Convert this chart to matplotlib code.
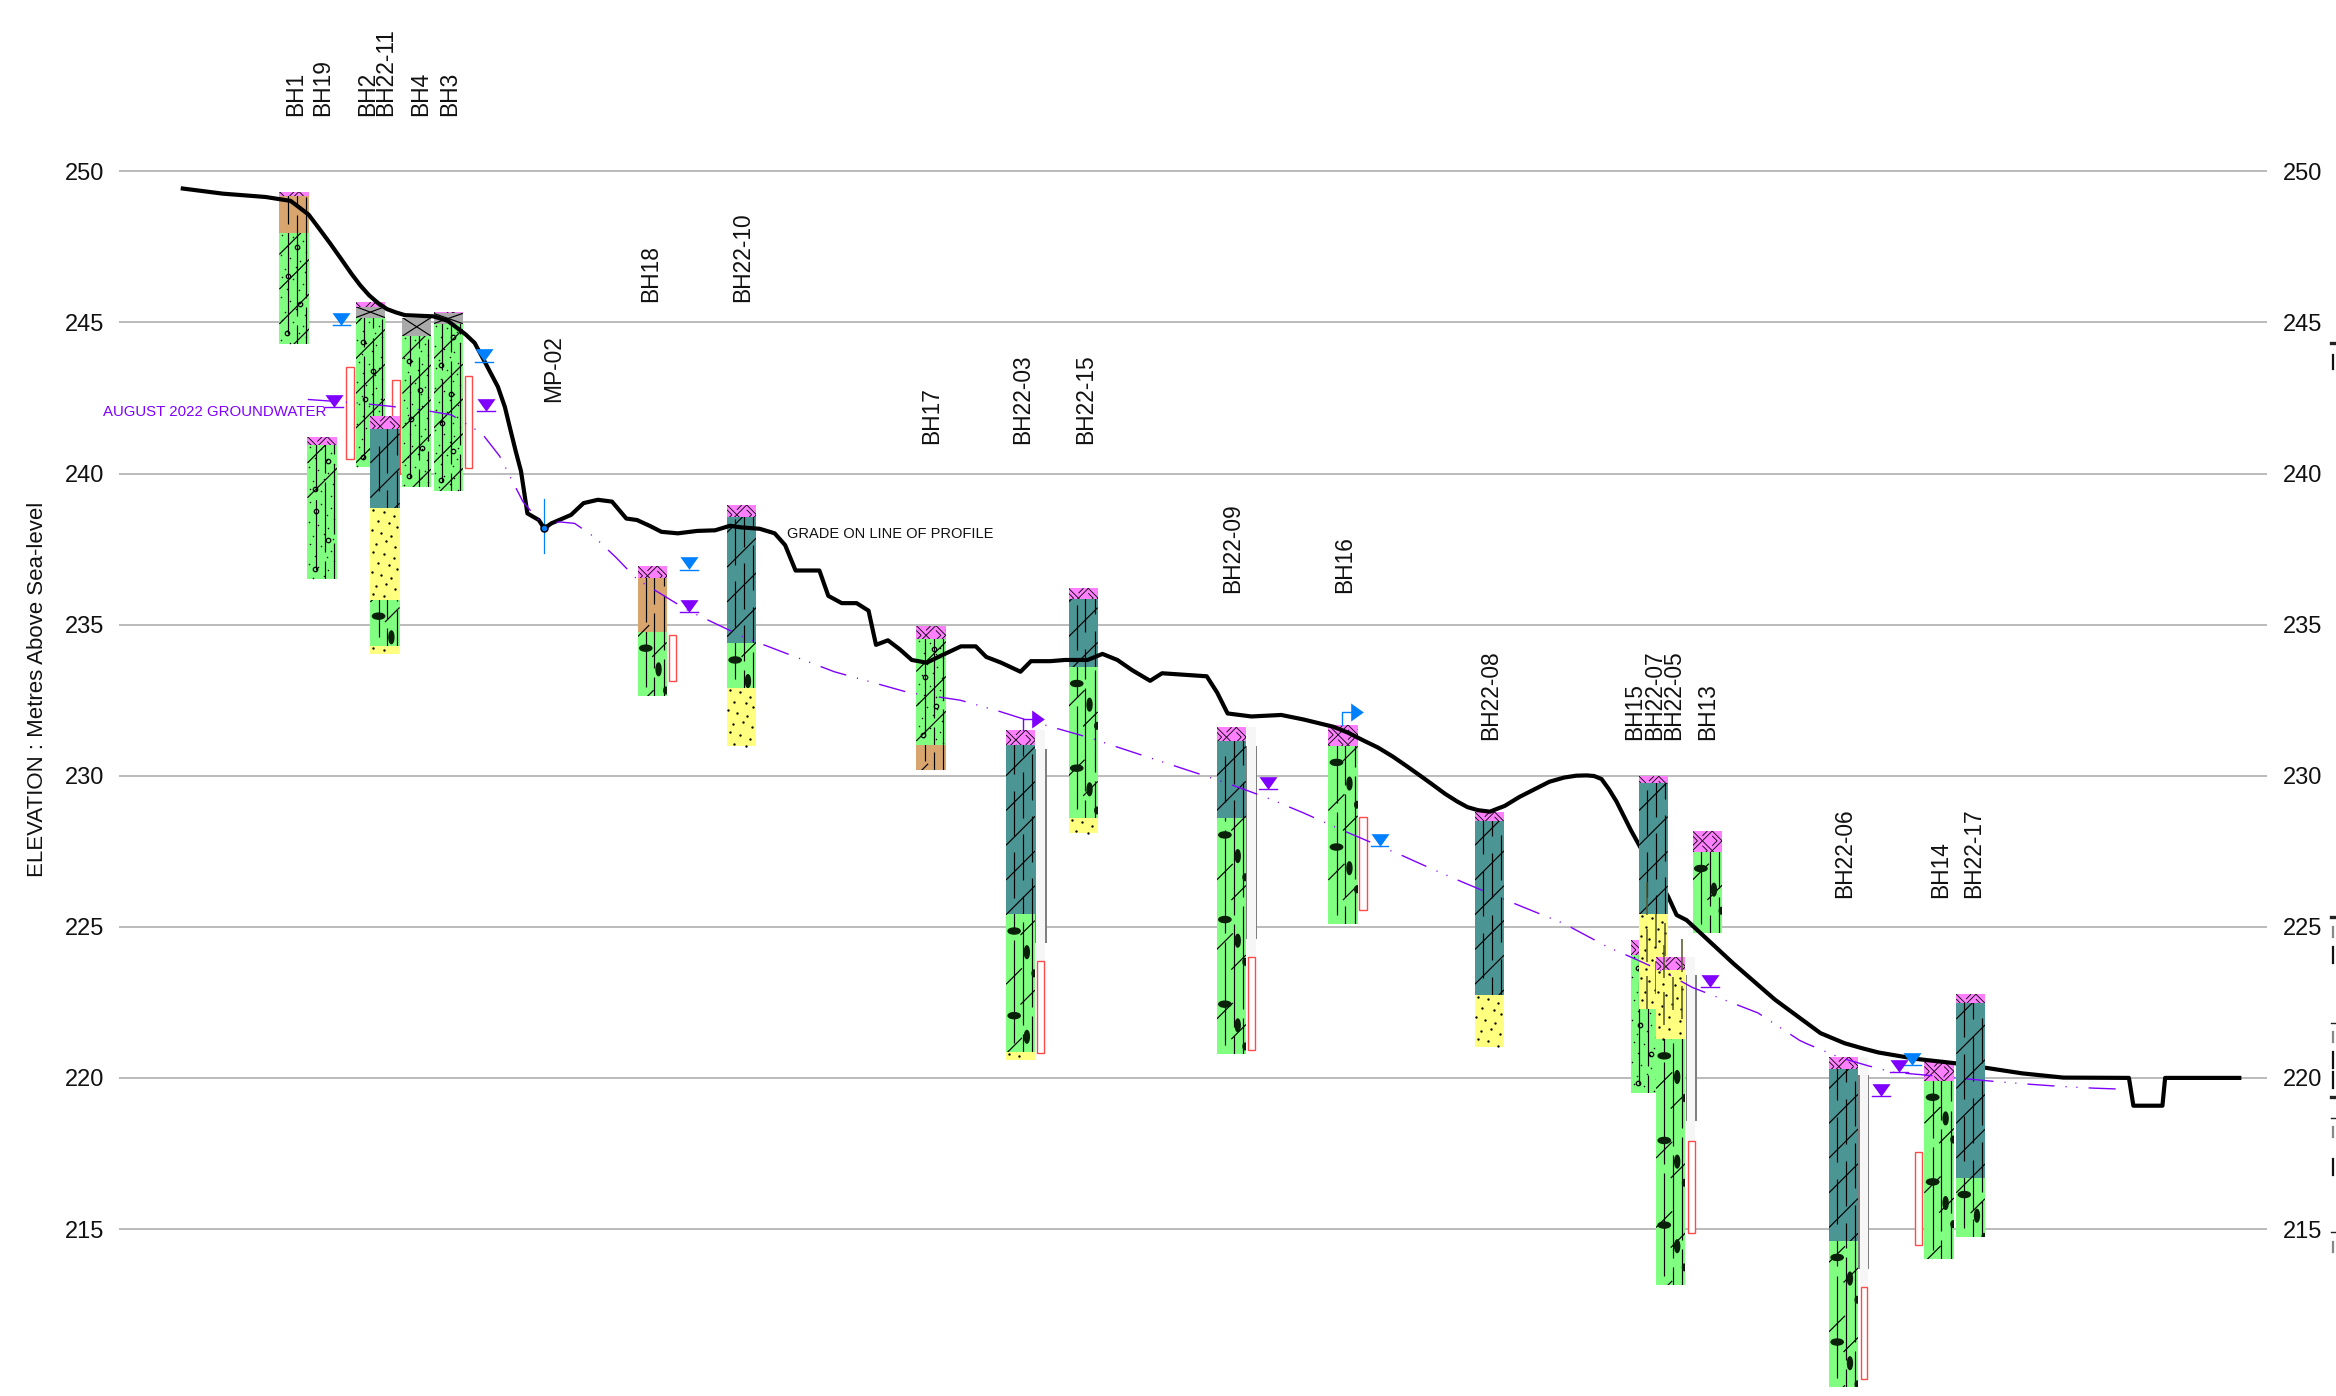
#!/usr/bin/env python3

import numpy as np
import matplotlib
matplotlib.use("Agg")
import matplotlib.pyplot as plt
from matplotlib.collections import LineCollection
from matplotlib.lines import Line2D
from matplotlib.patches import Ellipse, Rectangle

plt.rcParams['font.family'] = ['Liberation Sans', 'DejaVu Sans']

# === DATA ===
ELEVATION_TICKS = [215, 220, 225, 230, 235, 240, 245, 250]

GROUND_X = [122.7, 149.6, 178.3, 195.1, 207.1, 214.3, 221.5, 228.7, 235.9, 241.9, 247.9, 253.8, 259.8,
            265.8, 271.8, 291, 300.6, 312.6, 318.6, 324.6, 329.4, 334.2, 338.9, 342.5, 346.1, 349.7,
            354, 361.7, 365.3, 370.1, 383.3, 391.7, 401.3, 410.8, 420.4,
            427.6, 436, 444, 455, 468, 480, 490, 497, 510, 520, 527, 534, 550, 556, 565, 575, 583,
            588, 596, 604, 612, 622, 632, 645, 655, 662, 672, 685, 692, 705, 715, 730, 740, 750,
            760, 772, 780, 795, 810, 817, 824, 840, 860, 875, 895, 905, 915, 925, 935, 945, 955,
            962, 970, 978, 985, 992, 1000,
            1010, 1020, 1030, 1040, 1050, 1058, 1065, 1070, 1075, 1080, 1085, 1095, 1105, 1119.8,
            1125.4, 1132.1, 1163.4, 1191.4,
            1208.2, 1222, 1238, 1250, 1261, 1286, 1311.5, 1332.1, 1357.4, 1385, 1429, 1432, 1451.5,
            1453.3, 1503.1]
GROUND_EL = [249.43, 249.26, 249.15, 249.02, 248.57, 248.1, 247.62, 247.12, 246.61, 246.22, 245.89,
             245.64, 245.44, 245.33, 245.24, 245.2, 245.05, 244.6, 244.32, 243.77, 243.32, 242.87,
             242.2, 241.47, 240.75, 240.08, 238.68, 238.46, 238.18, 238.35, 238.63,
             239.02, 239.13, 239.07, 238.51, 238.46, 238.27, 238.07, 238.02, 238.1, 238.12, 238.27,
             238.22, 238.17, 238.02, 237.63, 236.79, 236.79, 235.95, 235.71, 235.71, 235.46, 234.33,
             234.48, 234.18, 233.83, 233.74, 233.98, 234.28, 234.28, 233.93, 233.74, 233.44, 233.79,
             233.79, 233.83, 233.83, 234.03, 233.83, 233.49, 233.14, 233.39, 233.34, 233.29, 232.75,
             232.06, 231.96, 232.01, 231.86, 231.62, 231.42, 231.17, 230.93, 230.63, 230.29, 229.94,
             229.69, 229.4, 229.15, 228.96, 228.86, 228.81,
             229.0, 229.3, 229.55, 229.8, 229.94, 230.0, 230.01, 229.99, 229.89, 229.55, 229.15,
             228.17, 227.28, 225.99, 225.39, 225.22,
             223.79, 222.59, 221.98, 221.48, 221.15, 220.98, 220.84, 220.63, 220.49, 220.34, 220.15,
             220.01, 220.0, 219.08, 219.08, 220.0, 220.0]

GW_X = [206.6, 240.7, 261, 283.8, 303, 323.4, 335.3, 351, 365.3, 375, 385.7, 398.9, 413.3, 427.6,
        462, 500, 560, 610, 644.4, 669.5, 687.4, 730.5, 752.9, 812.2, 834.5, 852.9, 874.4, 899.9,
        921.8, 939.7, 960.9, 979.3, 1000, 1050, 1078.8, 1097.4, 1118.7, 1136.1, 1180, 1208, 1212.8,
        1234.6, 1254, 1270.2, 1295.4, 1319.5, 1339.5, 1362.4, 1382.6, 1405.6, 1422.8]
GW_EL = [242.45, 242.33, 242.23, 242.1, 241.94, 241.33, 240.58, 239.07, 238.23, 238.4, 238.35, 237.9,
         237.23, 236.5, 235.46, 234.57, 233.44, 232.75, 232.5, 232.15, 231.87, 231.27, 230.9, 229.94,
         229.56, 229.22, 228.78, 228.22, 227.76, 227.39, 226.92, 226.53, 226.1, 225.1, 224.34, 223.94,
         223.46, 222.99, 222.15, 221.24, 221.13, 220.68, 220.4, 220.19, 220.08, 219.97, 219.88, 219.79,
         219.72, 219.66, 219.63]

# holes in drawing order
HOLE_NAMES = ['BH1', 'BH19', 'BH2', 'BH22-11', 'BH4', 'BH3', 'BH18', 'BH22-10', 'BH17', 'BH22-03',
              'BH22-15', 'BH22-09', 'BH16', 'BH22-08', 'BH15', 'BH22-07', 'BH22-05', 'BH13',
              'BH22-06', 'BH14', 'BH22-17']
HOLE_LEFT = [187.5, 206.4, 238.8, 248.6, 270.1, 291, 428, 488, 615, 675.3, 717.3, 816.7, 891.6, 990,
             1094.8, 1100.2, 1111.6, 1136.1, 1227.7, 1291.7, 1313.1]
HOLE_RIGHT = [207.6, 226.3, 258.4, 268.2, 289.3, 310.7, 447.5, 507.5, 635, 694.7, 736.8, 836.3, 911.3,
              1009.5, 1114.3, 1119.4, 1131.3, 1156, 1247.2, 1311.5, 1332.4]
HOLE_TOP = [249.33, 241.22, 245.66, 241.89, 245.16, 245.35, 236.94, 238.96, 234.97, 231.51, 236.2,
            231.6, 231.68, 228.8, 224.56, 229.98, 224.01, 228.17, 220.7, 220.54, 222.77]
HOLE_BOTTOMS = [
    [249.18, 247.96, 244.3],
    [240.95, 239.13, 236.5],
    [245.52, 245.16, 240.2],
    [241.46, 238.87, 235.83, 234.29, 234.02],
    [244.55, 239.56],
    [245.3, 244.96, 239.43],
    [236.55, 234.77, 232.65],
    [238.57, 234.38, 232.9, 230.98],
    [234.52, 231.0, 230.19],
    [231.01, 225.41, 220.85, 220.6],
    [235.85, 233.6, 228.61, 228.09],
    [231.16, 228.59, 220.79],
    [230.99, 225.09],
    [228.5, 222.75, 221.02],
    [224.06, 219.49],
    [229.77, 225.44, 222.28],
    [223.57, 221.75, 221.28, 213.14],
    [227.48, 224.8],
    [220.29, 214.61, 209.76],
    [219.91, 214.02],
    [222.47, 216.69, 214.72],
]
HOLE_SOILS = [
    ['fill_pink', 'brown', 'till'],
    ['fill_pink', 'till', 'till_plain'],
    ['fill_pink', 'asphalt', 'till'],
    ['fill_pink', 'clay', 'sand', 'till_cobble', 'sand'],
    ['asphalt', 'till'],
    ['fill_pink', 'asphalt', 'till'],
    ['fill_pink', 'brown', 'till_cobble'],
    ['fill_pink', 'clay', 'till_cobble', 'sand'],
    ['fill_pink', 'till', 'brown'],
    ['fill_pink', 'clay', 'till_cobble', 'sand'],
    ['fill_pink', 'clay', 'till_cobble', 'sand'],
    ['fill_pink', 'clay', 'till_cobble'],
    ['fill_pink', 'till_cobble'],
    ['fill_pink', 'clay', 'sand'],
    ['fill_pink', 'till_plain'],
    ['fill_pink', 'clay', 'silty_sand'],
    ['fill_pink', 'silty_sand', 'sand', 'till_cobble'],
    ['fill_pink', 'till_cobble'],
    ['fill_pink', 'clay', 'till_cobble'],
    ['fill_pink', 'till_cobble'],
    ['fill_pink', 'clay', 'till_cobble'],
]

# screened intervals
SCREEN_LEFT = [232.5, 263.4, 311.9, 449, 696, 837.8, 912.4, 1133, 1249, 1285.3]
SCREEN_RIGHT = [237.3, 268.7, 316.9, 454, 700.8, 842.4, 917.3, 1138, 1253.2, 1290.4]
SCREEN_TOP = [243.54, 243.1, 243.24, 234.67, 223.88, 223.99, 228.62, 217.92, 213.07, 217.54]
SCREEN_BOTTOM = [240.47, 240.0, 240.17, 233.14, 220.84, 220.93, 225.56, 214.86, 210.02, 214.47]

# well pipes above the deep screens
PIPE_LEFT = [695.4, 837.2, 1132.5, 1248.4]
PIPE_RIGHT = [701.4, 842.8, 1138, 1253.6]
PIPE_TOP = [231.51, 231.6, 224.01, 220.7]
PIPE_SEAL_TOP = [230.9, 230.99, 223.4, 220.1]
PIPE_SEAL_BOTTOM = [224.48, 224.58, 218.56, 213.66]
PIPE_BOTTOM = [223.88, 223.99, 217.92, 213.07]

LEVEL_BLUE_X = [229.2, 324.6, 462.5, 926, 1283.2]
LEVEL_BLUE_EL = [244.9, 243.7, 236.82, 227.67, 220.43]
LEVEL_PURPLE_X = [224.4, 326, 462.5, 851, 1147.8, 1262.8, 1274.8]
LEVEL_PURPLE_EL = [242.19, 242.06, 235.42, 229.55, 223.0, 219.4, 220.2]

# artesian flags
FLAG_X = [687, 901]
FLAG_FOOT = [231.51, 231.68]
FLAG_EL = [231.87, 232.1]
FLAG_COLORS = ['#8000ff', '#0080ff']

MP_X = 365.3
MP_EL = 238.2
MP_TOP = 239.16
MP_BOTTOM = 237.38

# === STYLE ===
FIG_W, FIG_H = 2336, 1396
PX = FIG_W / 1568          # layout below is worked out in 1568 wide units
Y250, PER_M = 171.3, 30.22
FILLS = {
    'fill_pink': '#ff80ff', 'brown': '#d8a56e', 'till': '#80ff80', 'till_plain': '#80ff80',
    'till_cobble': '#80ff80', 'clay': '#4c9595', 'sand': '#ffff80', 'silty_sand': '#ffff80',
    'asphalt': '#aaaaaa',
}
PURPLE = '#8000ff'
BLUE = '#0080ff'
RED = '#ff4a4a'
ABOVE_GROUND = ['BH15', 'BH22-07', 'BH22-05', 'BH22-17']
DOTS_X = [.1, .45, .8, .25, .65, .9, .05, .35, .7, .55, .2, .85]
DOTS_Y = [.05, .1, .2, .32, .36, .45, .52, .6, .66, .8, .86, .93]
TRI_DOWN = [(-1, .7), (1, .7), (0, -.7), (-1, .7)]
TRI_RIGHT = [(-.7, 1), (-.7, -1), (.7, 0), (-.7, 1)]


def px_to_el(py):
    return 250 - (py * PX - Y250) / PER_M


def segments_for(soil, x0, x1, top, bottom):
    w = x1 - x0
    rise = w / 20.3
    segs = []
    if soil == 'fill_pink':
        # basket weave, one cell leaning each way
        step = 6.6
        dy = step / 20.3
        for i, x in enumerate(np.arange(x0 - step, x1 + step, step)):
            for j, y in enumerate(np.arange(top - 4 * dy, top + dy, dy)):
                for t in (0.0, 0.5):
                    if (i + j) % 2:
                        segs.append([(x, y + t * dy), (x + step * (1 - t), y + dy)])
                    else:
                        segs.append([(x, y + dy * (1 - t)), (x + step * (1 - t), y)])
    elif soil == 'asphalt':
        segs += [[(x0, bottom), (x1, top)], [(x0, top), (x1, bottom)]]
    elif soil in ('till', 'clay', 'brown', 'till_cobble'):
        start = np.floor(bottom / 1.15) * 1.15 - 1.15
        for k, y in enumerate(np.arange(start, top + 1.15, 1.15)):
            if soil == 'till_cobble':
                if k % 2:
                    segs.append([(x0, y), (x0 + w * .55, y + rise * .55)])
                else:
                    segs.append([(x0 + w * .5, y + rise * .5), (x1, y + rise)])
            elif soil == 'brown':
                if k % 2:
                    segs.append([(x0, y), (x0 + w * .4, y + rise * .4)])
            else:
                segs.append([(x0, y), (x1, y + rise)])
    if soil in ('till', 'clay', 'brown', 'till_cobble', 'till_plain'):
        for n, frac in enumerate([.28, .58, .9]):
            dash = 1.5 if soil == 'clay' else 3.4
            gap = .55 if soil == 'clay' else .3
            phase = bottom + n * .6
            for y in np.arange(phase - dash, top, dash + gap):
                segs.append([(x0 + w * frac, y), (x0 + w * frac, y + dash)])
    return segs


def draw_layer(ax, soil, x0, x1, top, bottom, z):
    rect = Rectangle((x0, bottom), x1 - x0, top - bottom, facecolor=FILLS[soil],
                     edgecolor='none', zorder=z)
    ax.add_patch(rect)
    lw = 0.6 if soil == 'fill_pink' else 0.85
    lc = LineCollection(segments_for(soil, x0, x1, top, bottom), colors='black', linewidths=lw,
                        zorder=z + 0.01)
    ax.add_collection(lc, autolim=False)
    lc.set_clip_path(rect)
    w = x1 - x0
    if soil in ('sand', 'silty_sand', 'till', 'till_plain'):
        n = max(1, int(np.ceil((top - bottom) / 1.4)))
        size = 1.7 if 'sand' in soil else 1.1
        for i in range(n):
            ys = top - (np.array(DOTS_Y) + i) * 1.4
            keep = ys > bottom
            ax.plot(x0 + np.array(DOTS_X)[keep] * w, ys[keep], ls='none', marker='o', ms=size,
                    color='black', mew=0, zorder=z + 0.01)
    if soil == 'silty_sand':
        segs = []
        for frac, off in [(.28, 0), (.58, .5), (.9, .2)]:
            for y in np.arange(bottom + off, top, 1.55):
                segs.append([(x0 + w * frac, y), (x0 + w * frac, y + 1.1)])
        ax.add_collection(LineCollection(segs, colors='#55552a', linewidths=1.1, zorder=z + 0.01),
                          autolim=False)
    if soil in ('till', 'till_plain'):
        ys = np.arange(bottom + .35, top, .95)
        for i, y in enumerate(ys):
            frac = [.24, .68, .3, .6][i % 4]
            ax.plot(x0 + w * frac, y, ls='none', marker='o', ms=3.2, mfc='none', mec='black',
                    mew=0.9, zorder=z + 0.02)
    if soil == 'till_cobble':
        for y in np.arange(top - .55, bottom - 2.8, -2.8):
            # wide cobble, tall cobble, then a bit on the column edge
            pieces = [(.28, y, .42, .2), (.72, y - .7, .17, .42), (.97, y - 1.4, .14, .22)]
            for frac, yc, bw, bh in pieces:
                blob = Ellipse((x0 + w * frac, yc), w * bw, bh, color='#0a200a', zorder=z + 0.02)
                ax.add_patch(blob)
                blob.set_clip_path(rect)


# === PLOTTING ===
fig = plt.figure(figsize=(FIG_W / 100, FIG_H / 100), dpi=100)
fig.patch.set_facecolor('white')
ax = fig.add_axes([80 / 1568, 0, (1522 - 80) / 1568, 1])
ax.set_xlim(80, 1522)
ax.set_ylim(250 - (FIG_H - Y250) / PER_M, 250 + Y250 / PER_M)
for side in ax.spines.values():
    side.set_visible(False)

ax.set_xticks([])
ax.set_yticks(ELEVATION_TICKS)
ax.yaxis.grid(True, color='#a8a8a8', lw=1.1, zorder=1)
ax.set_axisbelow(True)
ax.tick_params(axis='y', length=0, labelsize=17, labelleft=True, labelright=True,
               pad=11, labelcolor='#111111')

# holes
for i, name in enumerate(HOLE_NAMES):
    z = 5 + i * 0.05 if name in ABOVE_GROUND else 2 + i * 0.05
    top = HOLE_TOP[i]
    for soil, bottom in zip(HOLE_SOILS[i], HOLE_BOTTOMS[i]):
        draw_layer(ax, soil, HOLE_LEFT[i], HOLE_RIGHT[i], top, bottom, z)
        top = bottom

# pipes and screens
for i in range(len(PIPE_LEFT)):
    xl, xr = PIPE_LEFT[i], PIPE_RIGHT[i]
    ax.add_patch(Rectangle((xl - 1, PIPE_SEAL_BOTTOM[i]), xr - xl + 2.2,
                           PIPE_SEAL_TOP[i] - PIPE_SEAL_BOTTOM[i], fc='#808080', ec='none', zorder=6.2))
    ax.add_patch(Rectangle((xl, PIPE_BOTTOM[i]), xr - xl, PIPE_TOP[i] - PIPE_BOTTOM[i],
                           fc='#f6f6f6', ec='none', zorder=6.3))
for i in range(len(SCREEN_LEFT)):
    # the second screen sits partly behind BH22-11
    z = 2.12 if i == 1 else 6.4
    ax.add_patch(Rectangle((SCREEN_LEFT[i], SCREEN_BOTTOM[i]), SCREEN_RIGHT[i] - SCREEN_LEFT[i],
                           SCREEN_TOP[i] - SCREEN_BOTTOM[i], fc='white', ec=RED, lw=1.0, zorder=z))

# ground and groundwater
ax.plot(GROUND_X, GROUND_EL, color='black', lw=3.0, solid_joinstyle='round', zorder=4)
ax.plot(GW_X, GW_EL, color=PURPLE, lw=1.0, ls=(0, (19.5, 8, 0.8, 7, 0.8, 8)), zorder=6.6)

# water levels
for xs, els, color in [(LEVEL_BLUE_X, LEVEL_BLUE_EL, BLUE), (LEVEL_PURPLE_X, LEVEL_PURPLE_EL, PURPLE)]:
    for x, el in zip(xs, els):
        ax.plot([x - 6, x + 6], [el, el], color=color, lw=1.0, zorder=7)
        ax.plot(x, el + 0.21, ls='none', marker=TRI_DOWN, ms=13, color=color, mew=0, zorder=7)
for x, foot, el, color in zip(FLAG_X, FLAG_FOOT, FLAG_EL, FLAG_COLORS):
    ax.plot([x, x, x + 6], [foot, el, el], color=color, lw=1.0, zorder=7)
    ax.plot(x + 10, el, ls='none', marker=TRI_RIGHT, ms=13, color=color, mew=0, zorder=7)

# monitoring point
ax.plot([MP_X, MP_X], [MP_TOP, MP_BOTTOM], color=BLUE, lw=0.9, zorder=7)
ax.plot(MP_X, MP_EL, ls='none', marker='o', ms=5, mfc=BLUE, mec='black', mew=1.1, zorder=8)

# hole names
LABEL_X = {'BH1': 198, 'BH19': 216, 'BH2': 246, 'BH22-11': 258.5, 'BH4': 282, 'BH3': 301,
           'BH18': 436, 'BH22-10': 498, 'MP-02': 371, 'BH17': 625, 'BH22-03': 686, 'BH22-15': 728,
           'BH22-09': 827, 'BH16': 902, 'BH22-08': 1000, 'BH15': 1097, 'BH22-07': 1110,
           'BH22-05': 1123, 'BH13': 1146, 'BH22-06': 1238, 'BH14': 1302, 'BH22-17': 1324}
LABEL_FOOT = {'BH1': 78, 'BH19': 78, 'BH2': 78, 'BH22-11': 78, 'BH4': 78, 'BH3': 78, 'BH18': 203,
              'BH22-10': 203, 'MP-02': 270, 'BH17': 298, 'BH22-03': 298, 'BH22-15': 298,
              'BH22-09': 398, 'BH16': 398, 'BH22-08': 497, 'BH15': 497, 'BH22-07': 497,
              'BH22-05': 497, 'BH13': 497, 'BH22-06': 603, 'BH14': 603, 'BH22-17': 603}
for name, x in LABEL_X.items():
    ax.text(x + 0.5, px_to_el(LABEL_FOOT[name]), name, rotation=90, ha='center', va='bottom',
            fontsize=16.4, color='#111111', zorder=9)

ax.text(69, px_to_el(276.5), 'AUGUST 2022 GROUNDWATER', color=PURPLE, fontsize=10.8, ha='left',
        va='center', zorder=9, clip_on=False)
ax.text(528, px_to_el(358.5), 'GRADE ON LINE OF PROFILE', color='#111111', fontsize=10.55, ha='left',
        va='center', zorder=9)
fig.text(25.5 / 1568, 1 - 463 / 937, 'ELEVATION : Metres Above Sea-level', rotation=90, ha='center',
         va='center', fontsize=16, color='#111111')

# stubs of the neighbouring sheet that the crop cuts off at the right edge
for py, lw in [(343, 2.4), (917, 2.4), (1023, 1), (1097, 2.4), (1118, 1), (1232, 1)]:
    fig.add_artist(Line2D([2331 / FIG_W, 1], [1 - py / FIG_H] * 2, color='#222222', lw=lw))
for py, half, color in [(362, 7, '#111111'), (932, 5, '#888888'), (955, 8, '#111111'), (1037, 5, '#888888'),
                        (1060, 8, '#111111'), (1080, 8, '#111111'), (1132, 5, '#888888'),
                        (1167, 8, '#111111'), (1247, 5, '#888888')]:
    fig.add_artist(Line2D([2333 / FIG_W] * 2, [1 - (py - half) / FIG_H, 1 - (py + half) / FIG_H],
                          color=color, lw=1.6))

fig.savefig('out.png', dpi=100, facecolor='white')
